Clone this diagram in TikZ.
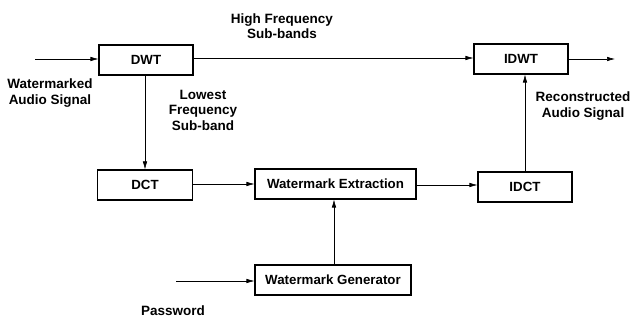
\documentclass[tikz,border=0pt]{standalone}
\usepackage{fontspec}
\setmainfont{Liberation Sans}
\usetikzlibrary{arrows.meta}
\begin{document}
\begin{tikzpicture}[x=1pt,y=-1pt,
  blk/.style={draw,line width=1.1pt,minimum height=30pt,inner sep=0pt,font=\bfseries\fontsize{13.3}{15}\selectfont},
  lbl/.style={align=center,font=\bfseries\fontsize{13.5}{15.5}\selectfont,inner sep=0pt},
  arr/.style={-{Latex[length=8pt,width=4.5pt]},line width=0.6pt}]
\useasboundingbox (0,0) rectangle (630,320);
\node[blk,minimum width=94pt] (dwt) at (146,60) {DWT};
\node[blk,minimum width=94pt] (idwt) at (521,59) {IDWT};
\node[blk,minimum width=95pt] (dct) at (145,185) {DCT};
\node[blk,minimum width=161pt] (wex) at (335.5,184) {Watermark Extraction};
\node[blk,minimum width=94pt] (idct) at (525,187) {IDCT};
\node[blk,minimum width=156pt] (wgen) at (333,280) {Watermark Generator};
\coordinate (in) at (35,59);
\coordinate (out) at (615,59);
\coordinate (pw) at (176,281);
\draw[arr] (in) -- (dwt.west |- in);
\draw[arr] (dwt.east |- 0,58) -- (idwt.west |- 0,58);
\draw[arr] (idwt.east) -- (out);
\draw[arr] (dwt.south -| 145,0) -- (dct.north -| 145,0);
\draw[arr] (dct.east |- 0,184) -- (wex.west |- 0,184);
\draw[arr] (wex.east |- 0,185) -- (idct.west |- 0,185);
\draw[arr] (idct.north -| 525,0) -- (idwt.south -| 525,0);
\draw[arr] (wgen.north -| 334,0) -- (wex.south -| 334,0);
\draw[arr] (pw) -- (wgen.west |- pw);
\node[lbl] (hf) at (282,26) {High Frequency\\Sub-bands};
\node[lbl] (wa) at (50,93) {Watermarked\\Audio Signal};
\node[lbl] (lf) at (203,110) {Lowest\\Frequency\\Sub-band};
\node[lbl] (ra) at (583,106) {Reconstructed\\Audio Signal};
\node[lbl] (pwl) at (173,311) {Password};
\end{tikzpicture}
\end{document}
